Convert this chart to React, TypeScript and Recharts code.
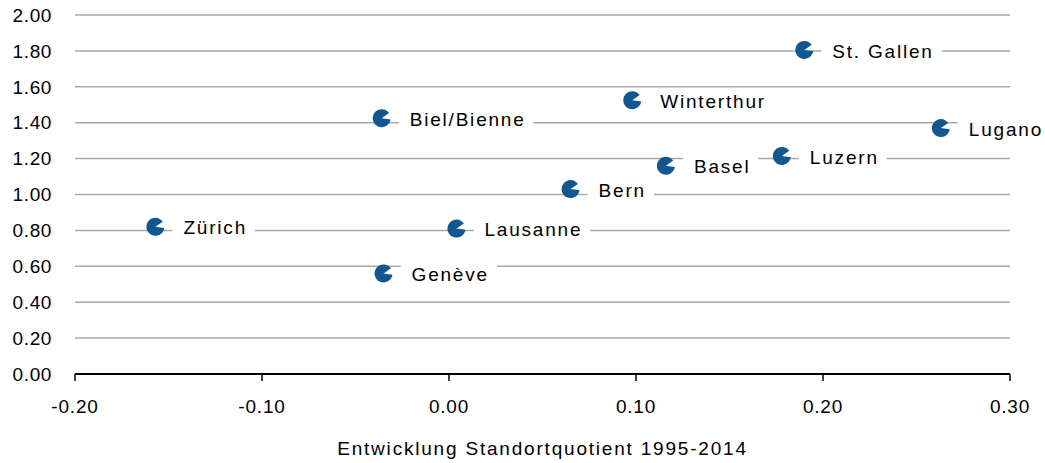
import React from "react";
import {
  ScatterChart,
  Scatter,
  XAxis,
  YAxis,
  CartesianGrid,
  LabelList,
} from "recharts";

const cities = [
  "Zürich",
  "Biel/Bienne",
  "Genève",
  "Lausanne",
  "Bern",
  "Winterthur",
  "Basel",
  "Luzern",
  "St. Gallen",
  "Lugano",
];
const growth = [-0.157, -0.036, -0.035, 0.004, 0.065, 0.098, 0.116, 0.178, 0.19, 0.263];
const quotient = [0.82, 1.425, 0.56, 0.81, 1.03, 1.525, 1.16, 1.215, 1.805, 1.37];

const xTicks = [-0.2, -0.1, 0, 0.1, 0.2, 0.3];
const yTicks = [0, 0.2, 0.4, 0.6, 0.8, 1.0, 1.2, 1.4, 1.6, 1.8, 2.0];

const data = cities.map((name, i) => ({ name, x: growth[i], y: quotient[i] }));

const FONT = "'Liberation Sans', Arial, sans-serif";
const BLUE = "#135791";
const LABEL_SIZE = 19;
const LABEL_SPACING = 1.8;

let canvas: HTMLCanvasElement | null = null;
const textWidth = (s: string) => {
  if (!canvas) canvas = document.createElement("canvas");
  const ctx = canvas.getContext("2d")!;
  ctx.font = `${LABEL_SIZE}px ${FONT}`;
  return ctx.measureText(s).width + s.length * LABEL_SPACING;
};

// circle with a small wedge cut out on the right
const Marker = (props: any) => {
  const { cx, cy } = props;
  const r = 9;
  const a1 = (-35 * Math.PI) / 180;
  const a2 = (8 * Math.PI) / 180;
  const sx = cx + r * Math.cos(a1);
  const sy = cy + r * Math.sin(a1);
  const ex = cx + r * Math.cos(a2);
  const ey = cy + r * Math.sin(a2);
  const d = `M${cx},${cy} L${ex},${ey} A${r},${r} 0 1 1 ${sx},${sy} Z`;
  return <path d={d} fill={BLUE} />;
};

const CityLabel = (props: any) => {
  const { x, y, width, height, value } = props;
  const cx = x + width / 2;
  const cy = y + height / 2 + 1;
  const w = textWidth(String(value));
  return (
    <g>
      <rect x={cx + 17} y={cy - 11} width={w + 19} height={22} fill="#fff" />
      <text
        x={cx + 28}
        y={cy}
        dy="0.35em"
        fontSize={LABEL_SIZE}
        fontFamily={FONT}
        fill="#000"
        letterSpacing={LABEL_SPACING}
      >
        {value}
      </text>
    </g>
  );
};

export default function App() {
  return (
    <div style={{ position: "absolute", left: 0, top: 0, background: "#fff" }}>
      <ScatterChart
        width={1045}
        height={463}
        margin={{ top: 15, right: 35, left: 0, bottom: 0 }}
        style={{ fontFamily: FONT }}
      >
        <CartesianGrid vertical={false} stroke="#a9a9a9" strokeWidth={1.5} />
        <XAxis
          type="number"
          dataKey="x"
          domain={[-0.2, 0.3]}
          ticks={xTicks}
          tickFormatter={(v: number) => v.toFixed(2)}
          height={89}
          tickSize={7}
          tickMargin={19}
          axisLine={{ stroke: "#000", strokeWidth: 2 }}
          tickLine={{ stroke: "#000", strokeWidth: 1.5 }}
          tick={{ fill: "#000", fontSize: 19, letterSpacing: 0.8 }}
          label={{
            value: "Entwicklung Standortquotient 1995-2014",
            position: "insideBottom",
            offset: 8,
            fill: "#000",
            fontSize: 19,
            letterSpacing: 1.8,
          }}
        />
        <YAxis
          type="number"
          dataKey="y"
          domain={[0, 2]}
          ticks={yTicks}
          tickFormatter={(v: number) => v.toFixed(2)}
          width={75}
          axisLine={false}
          tickLine={false}
          tickSize={0}
          tickMargin={23}
          tick={{ fill: "#000", fontSize: 19, letterSpacing: 0.6 }}
        />
        <Scatter data={data} shape={<Marker />} isAnimationActive={false}>
          <LabelList dataKey="name" content={<CityLabel />} />
        </Scatter>
      </ScatterChart>
    </div>
  );
}
